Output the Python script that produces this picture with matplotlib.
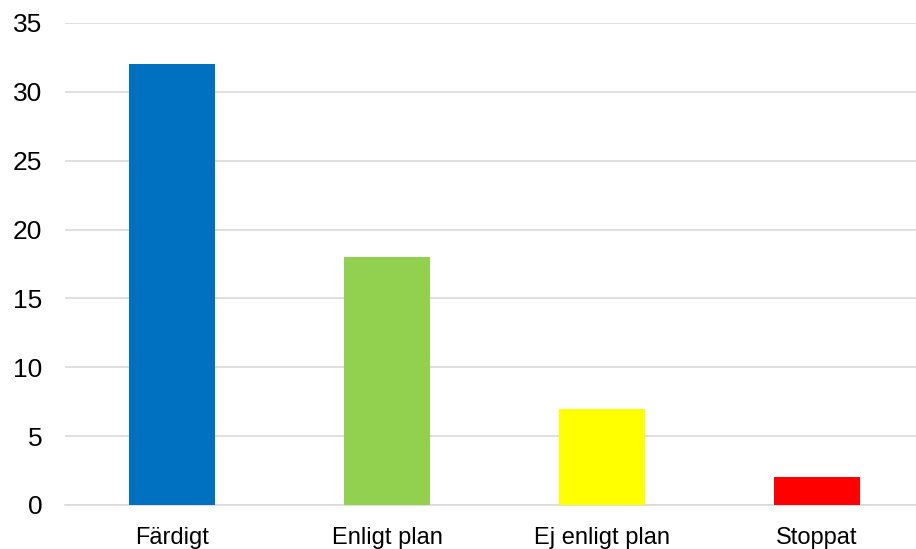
import matplotlib.pyplot as plt

categories = ['Färdigt', 'Enligt plan', 'Ej enligt plan', 'Stoppat']
values = [32, 18, 7, 2]
colors = ['#0070c0', '#92d050', '#ffff00', '#ff0000']
yticks = [0, 5, 10, 15, 20, 25, 30, 35]

plt.rcParams['font.family'] = ['Liberation Sans', 'DejaVu Sans']

fig = plt.figure(figsize=(9.16, 5.49), dpi=100)
ax = fig.add_axes([64.5 / 916, 44 / 549, 860 / 916, 482 / 549])

x = range(len(categories))
ax.bar(x, values, width=0.4, color=colors, zorder=3)

ax.set_xlim(-0.5, len(categories) - 0.5)
ax.set_ylim(0, 35)
ax.set_yticks(yticks)
ax.set_xticks(list(x))
ax.set_xticklabels(categories)

ax.grid(axis='y', color='#d9d9d9', linewidth=1.2, zorder=0)
for s in ['top', 'right', 'left']:
    ax.spines[s].set_visible(False)
ax.spines['bottom'].set_color('#d9d9d9')
ax.spines['bottom'].set_linewidth(1.2)

ax.tick_params(axis='y', length=0, pad=16, labelsize=19, labelcolor='#000000')
ax.tick_params(axis='x', length=0, pad=16, labelsize=17, labelcolor='#000000')

fig.savefig('out.png', dpi=100)
